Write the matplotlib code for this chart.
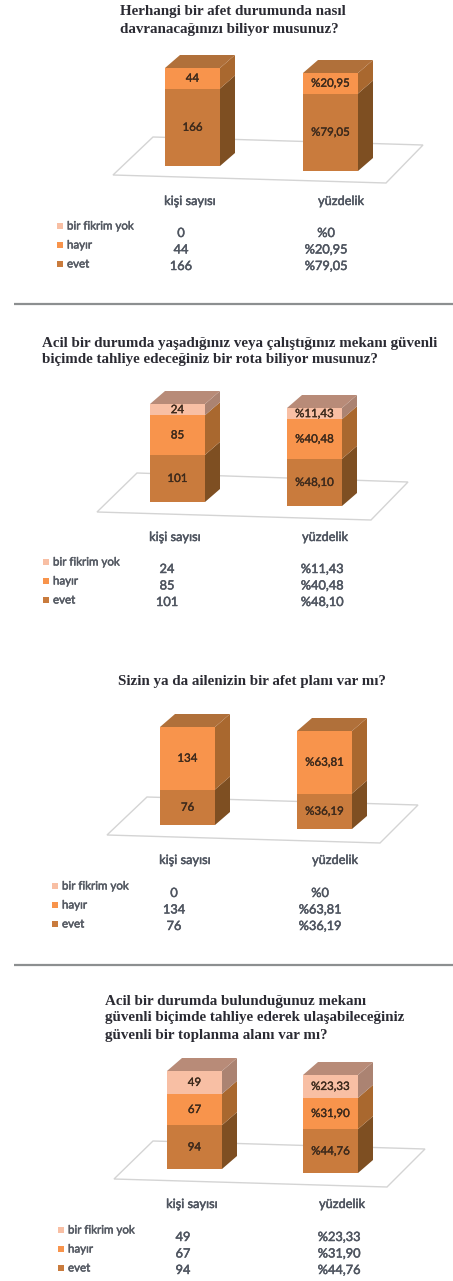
import matplotlib
matplotlib.use('Agg')
import matplotlib.pyplot as plt
import matplotlib.patheffects as pe
from matplotlib.patches import Polygon

plt.rcParams['font.family'] = ['Lato', 'DejaVu Sans']

# data, bottom segment first (evet, hayir, bir fikrim yok)
series_names = ['evet', 'hayır', 'bir fikrim yok']
category_names = ['kişi sayısı', 'yüzdelik']

titles = [
    ['Herhangi bir afet durumunda nasıl', 'davranacağınızı biliyor musunuz?'],
    ['Acil bir durumda yaşadığınız veya çalıştığınız mekanı güvenli',
     'biçimde tahliye edeceğiniz bir rota biliyor musunuz?'],
    ['Sizin ya da ailenizin bir afet planı var mı?'],
    ['Acil bir durumda bulunduğunuz mekanı',
     'güvenli biçimde tahliye ederek ulaşabileceğiniz',
     'güvenli bir toplanma alanı var mı?'],
]
counts = [[166, 44, 0], [101, 85, 24], [76, 134, 0], [94, 67, 49]]
percents = [[79.05, 20.95, 0], [48.10, 40.48, 11.43], [36.19, 63.81, 0], [44.76, 31.90, 23.33]]

front_colors = ['#c97b3d', '#f8944c', '#f8bfa4']
side_colors = ['#7e4f22', '#a9682f', '#ab8372']
top_colors = ['#b0703a', '#b0703a', '#b88b78']

# layout of each panel in image pixels
layout = [
    dict(title_x=120, title_y=12, bars=[(165, 166), (303, 171)], plate=[(153, 137), (423, 145), (386, 183), (113, 175)],
         cat_y=201, cat_x=(190, 341), leg_x=60, leg_y=226, col_x=(181, 326), col_y=233),
    dict(title_x=42, title_y=343, bars=[(150, 502), (287, 506)], plate=[(137, 473), (408, 482), (371, 520), (97, 512)],
         cat_y=537, cat_x=(175, 325), leg_x=46, leg_y=562, col_x=(167, 322), col_y=569),
    dict(title_x=118, title_y=682, bars=[(160, 825), (297, 829)], plate=[(147, 797), (418, 805), (380, 843), (107, 835)],
         cat_y=860, cat_x=(185, 335), leg_x=55, leg_y=886, col_x=(174, 320), col_y=893),
    dict(title_x=105, title_y=1001, bars=[(167, 1169), (303, 1173)], plate=[(153, 1141), (425, 1149), (387, 1187), (114, 1179)],
         cat_y=1204, cat_x=(192, 342), leg_x=61, leg_y=1230, col_x=(183, 339), col_y=1237),
]
bar_w = 55
bar_h = 98
depth_x = 15
depth_y = 13


def fmt_pct(v):
    if v == 0:
        return '%0'
    return '%' + f'{v:.2f}'.replace('.', ',')


def heavy(color, lw=0.35):
    # source is a blurry scan, thicken the glyphs a little
    return [pe.withStroke(linewidth=lw, foreground=color)]


def draw_bar(ax, x, base, values, labels):
    total = sum(values)
    y = base
    last = max(i for i, v in enumerate(values) if v > 0)
    for i, v in enumerate(values):
        if v == 0:
            continue
        h = v / total * bar_h
        ax.add_patch(Polygon([(x, y), (x + bar_w, y), (x + bar_w, y - h), (x, y - h)],
                             fc=front_colors[i], ec='none', zorder=3))
        ax.add_patch(Polygon([(x + bar_w, y), (x + bar_w + depth_x, y - depth_y),
                              (x + bar_w + depth_x, y - h - depth_y), (x + bar_w, y - h)],
                             fc=side_colors[i], ec='none', zorder=3))
        ax.text(x + bar_w / 2, y - h / 2, labels[i], ha='center', va='center',
                fontsize=8.3, color='#3d2a1c', zorder=4, path_effects=heavy('#3d2a1c', 0.25))
        y -= h
    ax.add_patch(Polygon([(x, y), (x + bar_w, y), (x + bar_w + depth_x, y - depth_y), (x + depth_x, y - depth_y)],
                         fc=top_colors[last], ec='none', zorder=3))


fig = plt.figure(figsize=(4.53, 12.81), dpi=100)
ax = fig.add_axes([0, 0, 1, 1])
ax.set_xlim(0, 453)
ax.set_ylim(1281, 0)
ax.axis('off')

for k, p in enumerate(layout):
    for j, line in enumerate(titles[k]):
        ax.text(p['title_x'], p['title_y'] + j * 17, line, family=['Liberation Serif', 'DejaVu Serif'],
                fontweight='bold', fontsize=10.8, color='#2b2b33', ha='left', va='center')

    ax.add_patch(Polygon(p['plate'], closed=True, fc='white', ec='#d4d4d4', lw=1.0, zorder=1))

    count_labels = [str(v) for v in counts[k]]
    pct_labels = [fmt_pct(v) for v in percents[k]]
    draw_bar(ax, p['bars'][0][0], p['bars'][0][1], counts[k], count_labels)
    draw_bar(ax, p['bars'][1][0], p['bars'][1][1], percents[k], pct_labels)

    for c, name in enumerate(category_names):
        ax.text(p['cat_x'][c], p['cat_y'], name, ha='center', va='center', fontsize=9.2,
                color='#4f5560', path_effects=heavy('#4f5560'))

    # legend and value table, top row is the last series
    for r in range(3):
        s = 2 - r
        ly = p['leg_y'] + r * 19
        ax.scatter([p['leg_x']], [ly], marker='s', s=24, color=front_colors[s], linewidths=0, zorder=3)
        ax.text(p['leg_x'] + 7, ly, series_names[s], ha='left', va='center', fontsize=8.3,
                color='#555a63', path_effects=heavy('#555a63'))
        vy = p['col_y'] + r * 16.5
        ax.text(p['col_x'][0], vy, count_labels[s], ha='center', va='center', fontsize=9.2,
                color='#4f5560', path_effects=heavy('#4f5560'))
        ax.text(p['col_x'][1], vy, pct_labels[s], ha='center', va='center', fontsize=9.2,
                color='#4f5560', path_effects=heavy('#4f5560'))

# separators
for y in (304, 965):
    ax.plot([14, 453], [y, y], color='#8c8f90', lw=1.6, solid_capstyle='butt')

fig.savefig('out.png', dpi=100)
